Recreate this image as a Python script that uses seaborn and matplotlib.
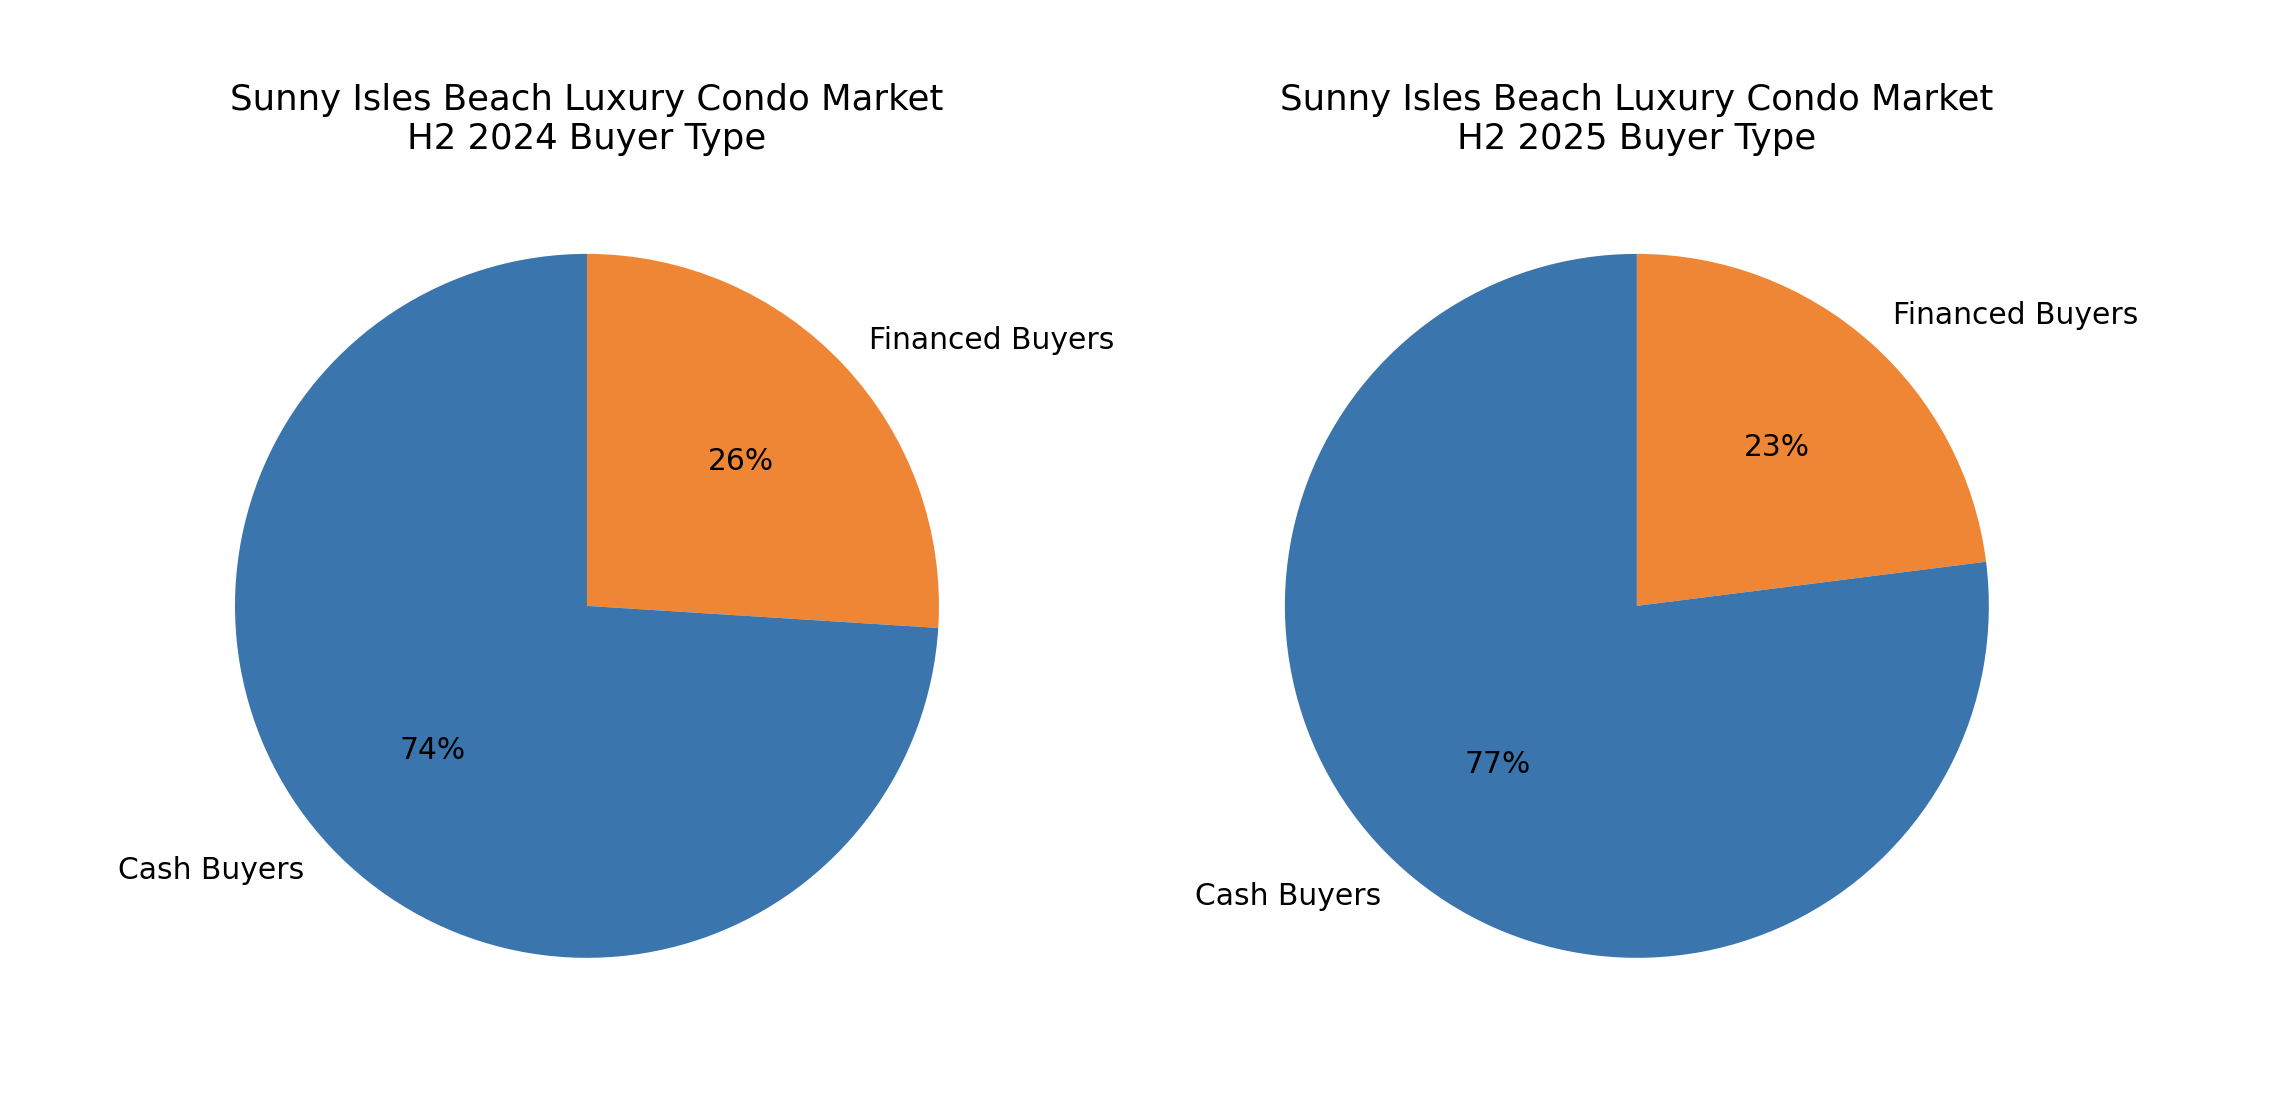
import matplotlib
matplotlib.use("Agg")
import matplotlib.pyplot as plt
import seaborn as sns

labels = ["Financed Buyers", "Cash Buyers"]
share_2024 = [26, 74]
share_2025 = [23, 77]
titles = ["Sunny Isles Beach Luxury Condo Market\nH2 2024 Buyer Type",
          "Sunny Isles Beach Luxury Condo Market\nH2 2025 Buyer Type"]

colors = sns.color_palette(["#EE8635", "#3A75AE"])

fig = plt.figure(figsize=(11.36, 5.47), dpi=200)
ax1 = fig.add_axes([0.0647, 0.044, 0.3873, 0.8044])
ax2 = fig.add_axes([0.5268, 0.044, 0.3873, 0.8044])

for ax, vals, title in zip([ax1, ax2], [share_2024, share_2025], titles):
    ax.pie(vals, labels=labels, colors=colors, autopct="%1.0f%%",
           startangle=90, counterclock=False,
           textprops={"fontsize": 10.7})
    ax.set_title(title, fontsize=12.8)

fig.savefig("out.png", dpi=200)
